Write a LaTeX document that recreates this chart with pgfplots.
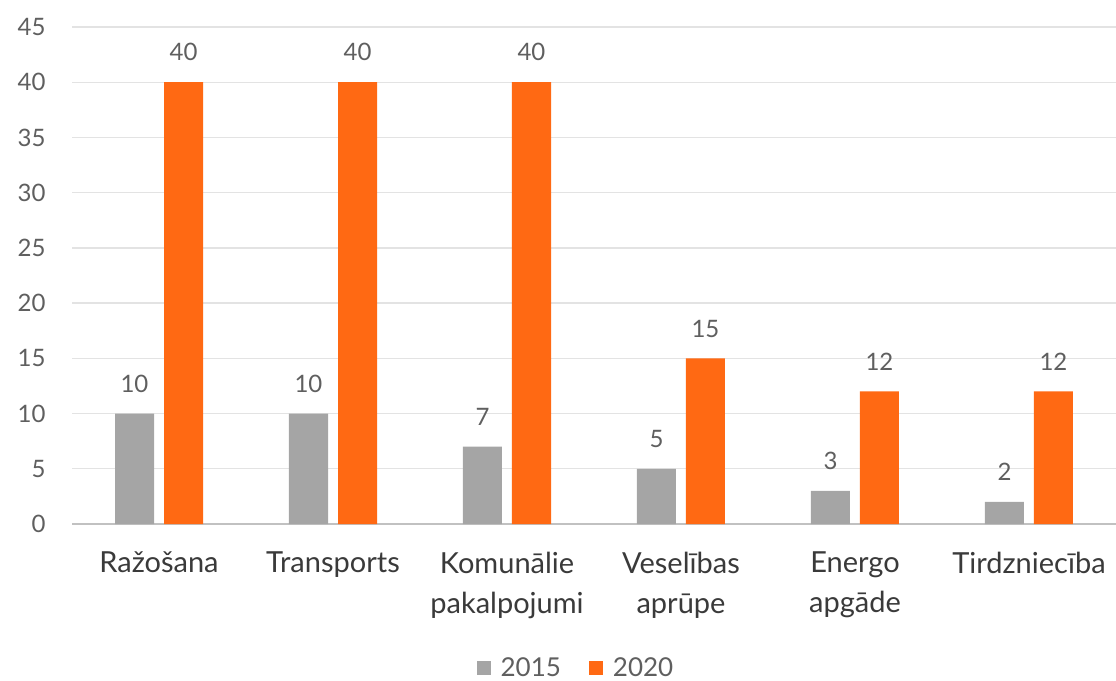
\documentclass[border=0pt]{standalone}
\usepackage{fontspec}
\setmainfont{Lato}
\usepackage{pgfplots}
\pgfplotsset{compat=1.18}
\definecolor{grayBar}{HTML}{A5A5A5}
\definecolor{orangeBar}{HTML}{FF6913}
\definecolor{gridCol}{HTML}{E3E3E3}
\definecolor{numCol}{HTML}{5F5F5F}
\definecolor{labCol}{HTML}{3A3A3A}

\begin{document}
\begin{tikzpicture}
\begin{axis}[
    scale only axis,
    width=522pt, height=248.5pt,
    at={(0,0)}, anchor=south west,
    ybar=5pt, bar width=19.5pt,
    xmin=-0.5, xmax=5.5,
    ymin=0, ymax=45,
    ytick={0,5,...,45},
    xtick={0,1,2,3,4,5},
    xticklabels={Ražošana, Transports, Komunālie\\pakalpojumi, Veselības\\aprūpe, Energo\\apgāde, Tirdzniecība},
    enlargelimits=false,
    major tick length=0pt,
    axis x line*=bottom, axis y line*=left,
    x axis line style={-, draw=gridCol!85!black, line width=0.8pt},
    y axis line style={draw=none},
    ymajorgrids, grid style={gridCol, line width=0.7pt},
    /pgf/number format/assume math mode=true,
    yticklabel style={font=\fontsize{12}{14}\selectfont, text=numCol, xshift=-9.7pt},
    xticklabel style={font=\fontsize{14.5}{20}\selectfont, text=labCol, align=center, yshift=-10.5pt},
    nodes near coords,
    nodes near coords style={font=\fontsize{12}{14}\selectfont, text=numCol, yshift=7pt},
    legend columns=2,
    legend style={at={(0.4837,-0.29)}, anchor=center, draw=none, fill=none,
        font=\fontsize{13}{15}\selectfont, text=numCol,
        /tikz/every odd column/.append style={column sep=3pt},
        /tikz/every even column/.append style={column sep=12pt}},
    legend image code/.code={\fill[#1] (0pt,-3.5pt) rectangle (7pt,3.5pt);},
]
\addplot[fill=grayBar, draw=none] coordinates {(0,10) (1,10) (2,7) (3,5) (4,3) (5,2)};
\addlegendentry{2015}
\addplot[fill=orangeBar, draw=none] coordinates {(0,40) (1,40) (2,40) (3,15) (4,12) (5,12)};
\addlegendentry{2020}
\end{axis}
\pgfresetboundingbox
\path[use as bounding box] (-36pt,-78.5pt) rectangle (522pt,262pt);
\end{tikzpicture}
\end{document}
